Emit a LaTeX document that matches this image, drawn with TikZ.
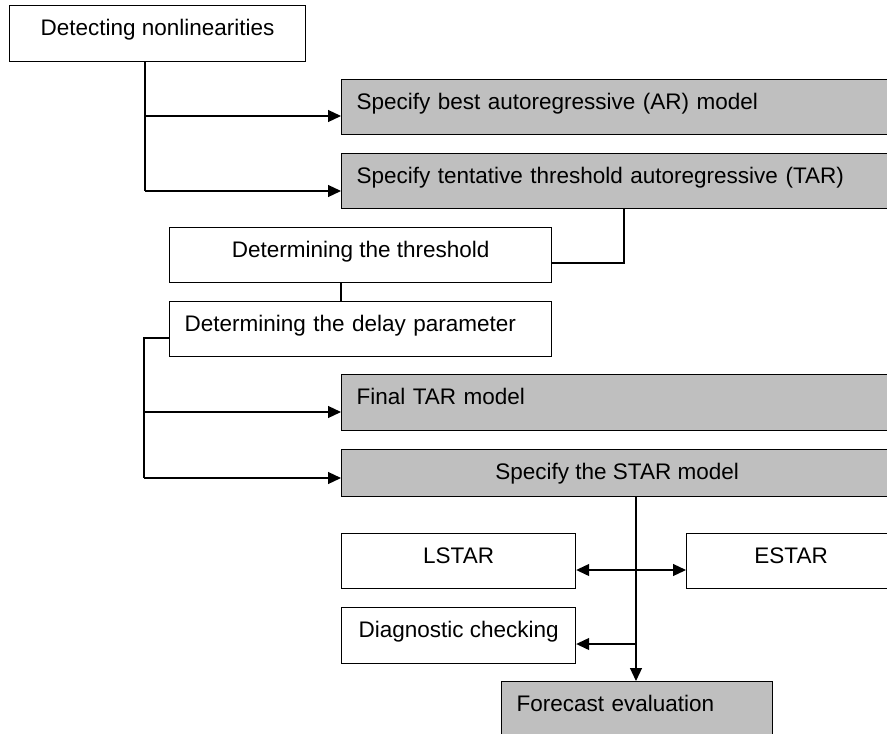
\documentclass[tikz,border=0pt]{standalone}
\usepackage{fontspec}
\setmainfont{Liberation Sans}
\usetikzlibrary{arrows.meta}
\begin{document}
\begin{tikzpicture}[x=1pt,y=-1pt,
  font=\fontsize{22.5}{27}\selectfont,
  bx/.style={draw=black, line width=1.2pt, rectangle, anchor=north west, inner ysep=0pt, text height=30pt},
  wbox/.style={bx, fill=white, inner xsep=0pt, align=center},
  gbox/.style={bx, fill=black!25},
  lefttext/.style={inner xsep=15pt, align=left},
  ctext/.style={inner xsep=0pt, align=center},
  ln/.style={line width=1.2pt},
  tip/.tip={Triangle[length=13pt,width=12pt]},
  arr/.style={ln, -tip},
  arrtwo/.style={ln, tip-tip}]
\useasboundingbox (0,0) rectangle (887,734);
\fill[white] (0,0) rectangle (887,734);
\clip (0,0) rectangle (887,734);

% boxes
\node[wbox, minimum width=296pt, minimum height=56pt, text depth=26pt] (det) at (9,5) {Detecting nonlinearities};
\node[gbox, lefttext, text width=521pt, minimum height=55pt, text depth=25pt] (ar) at (341,79) {Specify best autoregressive (AR) model};
\node[gbox, lefttext, text width=521pt, minimum height=55pt, text depth=25pt] (tar) at (341,153) {Specify tentative threshold autoregressive (TAR)};
\node[wbox, minimum width=382pt, minimum height=55pt, text depth=25pt] (thr) at (169,227) {Determining the threshold};
\node[bx, fill=white, lefttext, text width=352pt, minimum height=55pt, text depth=25pt] (delay) at (169,301) {Determining the delay parameter};
\node[gbox, lefttext, text width=521pt, minimum height=56pt, text depth=26pt] (final) at (341,374) {Final TAR model};
\node[gbox, ctext, minimum width=551pt, minimum height=47pt, text depth=17pt] (star) at (341,449) {Specify the STAR model};
\node[wbox, minimum width=234pt, minimum height=55pt, text depth=25pt] (lstar) at (341,533) {LSTAR};
\node[wbox, minimum width=209pt, minimum height=55pt, text depth=25pt] (estar) at (686,533) {ESTAR};
\node[wbox, minimum width=234pt, minimum height=56pt, text depth=26pt] (diag) at (341,607) {Diagnostic checking};
\node[gbox, lefttext, text width=241pt, minimum height=60pt, text depth=30pt] (fore) at (501,681) {Forecast evaluation};

% connectors
\coordinate (d0) at ([xshift=136pt]det.south west);
\coordinate (arin) at ([yshift=-37pt]ar.north west);
\coordinate (tarin) at ([yshift=-38pt]tar.north west);
\draw[ln] (d0) -- (d0 |- tarin);
\draw[arr] (d0 |- arin) -- (arin);
\draw[arr] (d0 |- tarin) -- (tarin);

\coordinate (t0) at ([xshift=283pt]tar.south west);
\coordinate (thrin) at ([yshift=-36pt]thr.north east);
\draw[ln] (t0) |- (thrin);

\coordinate (h0) at ([xshift=172pt]thr.south west);
\draw[ln] (h0) -- (h0 |- delay.north);

\coordinate (dl0) at ([yshift=-37pt]delay.north west);
\coordinate (d1) at ([xshift=-25pt]dl0);
\coordinate (finin) at ([yshift=-38pt]final.north west);
\coordinate (starin) at ([yshift=-29pt]star.north west);
\draw[ln] (dl0) -- (d1) -- (d1 |- starin);
\draw[arr] (d1 |- finin) -- (finin);
\draw[arr] (d1 |- starin) -- (starin);

\coordinate (s0) at ([xshift=295pt]star.south west);
\draw[arr] (s0) -- (s0 |- fore.north);

\draw[arrtwo] ([yshift=-37pt]lstar.north east) -- ([yshift=-37pt]estar.north west);

\coordinate (dg) at ([yshift=-37pt]diag.north east);
\draw[arr] (s0 |- dg) -- (dg);
\end{tikzpicture}
\end{document}
